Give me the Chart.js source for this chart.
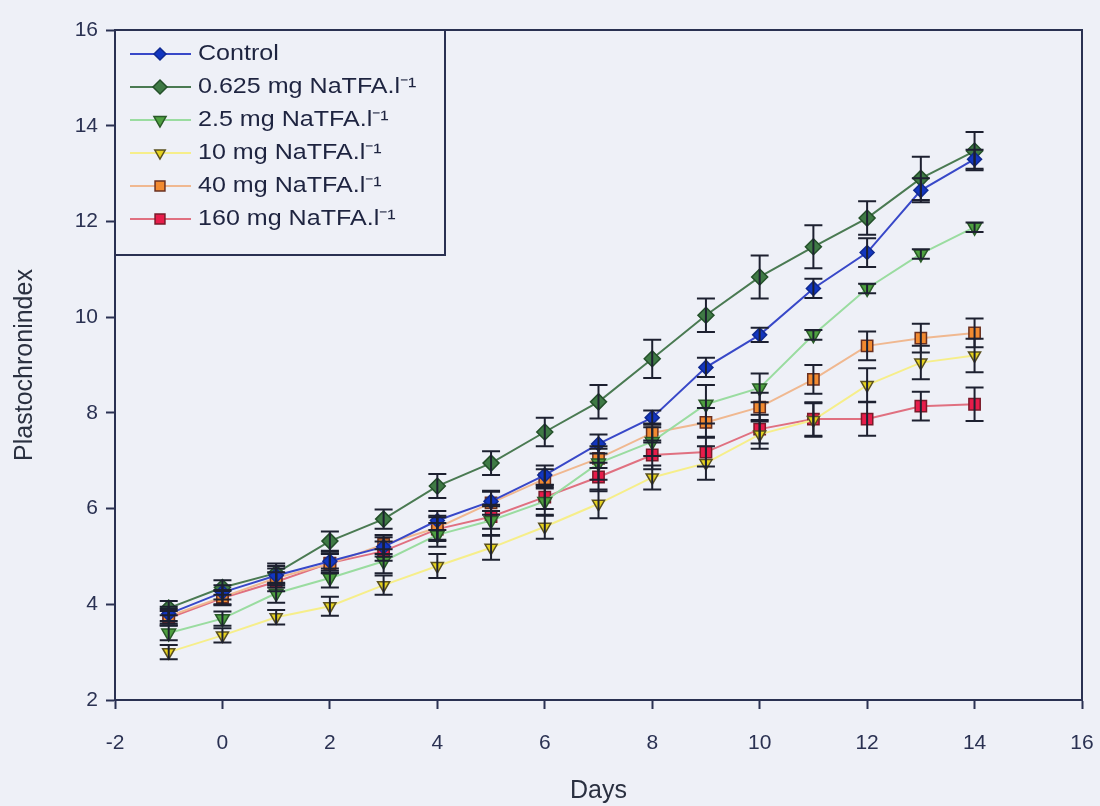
<!DOCTYPE html>
<html>
<head>
<meta charset="utf-8">
<script src="https://cdn.jsdelivr.net/npm/chart.js@4/dist/chart.umd.min.js"></script>
<style>
  html, body { margin: 0; padding: 0; background: #eef0f7; }
  #wrap { width: 1100px; height: 806px; position: relative; }
</style>
</head>
<body>
<div id="wrap"><canvas id="chart" width="1100" height="806"></canvas></div>
<script>
/* data */
const days = [-1, 0, 1, 2, 3, 4, 5, 6, 7, 8, 9, 10, 11, 12, 13, 14];

const control = [3.8, 4.25, 4.6, 4.9, 5.2, 5.75, 6.15, 6.7, 7.35, 7.9, 8.95, 9.63, 10.6, 11.35, 12.65, 13.3];
const na0625  = [3.92, 4.35, 4.65, 5.32, 5.78, 6.47, 6.95, 7.6, 8.23, 9.13, 10.04, 10.84, 11.47, 12.07, 12.9, 13.47];
const na25    = [3.4, 3.7, 4.23, 4.55, 4.9, 5.45, 5.75, 6.15, 6.95, 7.4, 8.18, 8.52, 9.63, 10.6, 11.32, 11.88];
const na10    = [3.0, 3.35, 3.73, 3.96, 4.4, 4.8, 5.18, 5.62, 6.1, 6.65, 6.95, 7.55, 7.85, 8.58, 9.05, 9.2];
const na40    = [3.75, 4.15, 4.55, 4.85, 5.25, 5.6, 6.12, 6.62, 7.05, 7.58, 7.8, 8.12, 8.7, 9.4, 9.56, 9.67];
const na160   = [3.71, 4.13, 4.47, 4.86, 5.11, 5.57, 5.83, 6.24, 6.66, 7.12, 7.18, 7.66, 7.87, 7.87, 8.14, 8.18];

/* standard errors */
const errControl = [0.15, 0.15, 0.2, 0.2, 0.2, 0.2, 0.2, 0.2, 0.2, 0.15, 0.2, 0.15, 0.2, 0.3, 0.25, 0.2];
const err0625    = [0.15, 0.15, 0.2, 0.2, 0.2, 0.25, 0.25, 0.3, 0.35, 0.4, 0.35, 0.45, 0.45, 0.35, 0.45, 0.4];
const err25      = [0.15, 0.15, 0.2, 0.2, 0.25, 0.25, 0.3, 0.3, 0.35, 0.3, 0.4, 0.3, 0.1, 0.1, 0.1, 0.1];
const err10      = [0.15, 0.15, 0.15, 0.2, 0.2, 0.25, 0.25, 0.25, 0.3, 0.25, 0.35, 0.3, 0.35, 0.35, 0.35, 0.35];
const err40      = [0.15, 0.15, 0.2, 0.2, 0.2, 0.25, 0.25, 0.2, 0.2, 0.2, 0.3, 0.3, 0.3, 0.3, 0.3, 0.3];
const err160     = [0.15, 0.15, 0.2, 0.2, 0.2, 0.25, 0.25, 0.25, 0.3, 0.3, 0.3, 0.3, 0.35, 0.35, 0.3, 0.35];

const seriesNames = [
  "Control",
  "0.625 mg NaTFA.l⁻¹",
  "2.5 mg NaTFA.l⁻¹",
  "10 mg NaTFA.l⁻¹",
  "40 mg NaTFA.l⁻¹",
  "160 mg NaTFA.l⁻¹"
];
const xTicks = [-2, 0, 2, 4, 6, 8, 10, 12, 14, 16];
const yTicks = [2, 4, 6, 8, 10, 12, 14, 16];

const FONT = "'Liberation Sans', Arial, sans-serif";
const INK = "#2a3152";

function pts(vals) {
  return days.map((d, i) => ({ x: d, y: vals[i] }));
}

const styles = [
  { line: "#3848c8", fill: "#1236c0", border: "#102a90", shape: "rectRot", r: 7, rot: 0 },
  { line: "#4a7a52", fill: "#3f7a45", border: "#24502a", shape: "rectRot", r: 8, rot: 0 },
  { line: "#9adca0", fill: "#4ea040", border: "#2a5a28", shape: "triangle", r: 8, rot: 180 },
  { line: "#f6ee8a", fill: "#e6d21e", border: "#5a5020", shape: "triangle", r: 7, rot: 180 },
  { line: "#f0b890", fill: "#f28a30", border: "#6a3020", shape: "rect", r: 8, rot: 0 },
  { line: "#e07080", fill: "#e81c4a", border: "#7a1a2a", shape: "rect", r: 8, rot: 0 }
];
const values = [control, na0625, na25, na10, na40, na160];
const errors = [errControl, err0625, err25, err10, err40, err160];

const datasets = values.map((v, k) => ({
  label: seriesNames[k],
  data: pts(v),
  borderColor: styles[k].line,
  borderWidth: 2,
  backgroundColor: styles[k].fill,
  pointBackgroundColor: styles[k].fill,
  pointBorderColor: styles[k].border,
  pointBorderWidth: 1.5,
  pointStyle: styles[k].shape,
  pointRadius: styles[k].r,
  pointRotation: styles[k].rot,
  tension: 0,
  errors: errors[k]
}));

/* error bars, frame and legend box */
const extras = {
  id: "extras",
  afterDatasetsDraw(chart) {
    const ctx = chart.ctx;
    const ys = chart.scales.y;
    ctx.save();
    ctx.strokeStyle = "#1d2030";
    ctx.lineWidth = 2;
    chart.data.datasets.forEach((ds, k) => {
      const meta = chart.getDatasetMeta(k);
      meta.data.forEach((p, i) => {
        const v = ds.data[i].y, e = ds.errors[i];
        const yt = ys.getPixelForValue(v + e), yb = ys.getPixelForValue(v - e);
        ctx.beginPath();
        ctx.moveTo(p.x, yt); ctx.lineTo(p.x, yb);
        ctx.moveTo(p.x - 9, yt); ctx.lineTo(p.x + 9, yt);
        ctx.moveTo(p.x - 9, yb); ctx.lineTo(p.x + 9, yb);
        ctx.stroke();
      });
    });
    ctx.restore();
  },
  afterDraw(chart) {
    const ctx = chart.ctx;
    const a = chart.chartArea;
    ctx.save();
    // frame top/right
    ctx.strokeStyle = INK;
    ctx.lineWidth = 2;
    ctx.beginPath();
    ctx.moveTo(a.left, a.top); ctx.lineTo(a.right, a.top); ctx.lineTo(a.right, a.bottom);
    ctx.stroke();

    // legend
    const bx = a.left, by = a.top, bw = 330, bh = 225;
    ctx.fillStyle = "#eef0f7";
    ctx.fillRect(bx, by, bw, bh);
    ctx.strokeRect(bx, by, bw, bh);
    ctx.font = "22px " + FONT;
    ctx.textBaseline = "middle";
    chart.data.datasets.forEach((ds, k) => {
      const y = by + 24 + k * 33;
      ctx.strokeStyle = ds.borderColor;
      ctx.lineWidth = 2;
      ctx.beginPath();
      ctx.moveTo(bx + 15, y); ctx.lineTo(bx + 76, y);
      ctx.stroke();
      ctx.fillStyle = ds.pointBackgroundColor;
      ctx.strokeStyle = ds.pointBorderColor;
      ctx.lineWidth = 1.5;
      Chart.helpers.drawPoint(ctx, {
        pointStyle: ds.pointStyle,
        radius: ds.pointRadius - 1,
        rotation: ds.pointRotation,
        borderWidth: 1.5
      }, bx + 45, y);
      // reference text is a little wider than Liberation Sans
      ctx.save();
      ctx.translate(bx + 83, y);
      ctx.scale(1.14, 1);
      ctx.fillStyle = "#1e2440";
      ctx.fillText(ds.label, 0, 0);
      ctx.restore();
    });
    ctx.restore();
  }
};

new Chart(document.getElementById("chart"), {
  type: "line",
  data: { datasets },
  plugins: [extras],
  options: {
    responsive: false,
    animation: false,
    layout: { padding: { top: 30, right: 18, left: 0, bottom: 0 } },
    plugins: { legend: { display: false }, tooltip: { enabled: false } },
    scales: {
      x: {
        type: "linear",
        min: -2, max: 16,
        afterBuildTicks: s => { s.ticks = xTicks.map(v => ({ value: v })); },
        afterFit: s => { s.height = 106; s.paddingLeft = 0; s.paddingRight = 0; },
        grid: { drawOnChartArea: false, color: INK, tickLength: 9, tickWidth: 2 },
        border: { color: INK, width: 2 },
        ticks: { color: INK, font: { family: FONT, size: 21 }, padding: 22, maxRotation: 0 },
        title: { display: true, text: "Days", color: "#2a3040", font: { family: FONT, size: 25 }, padding: { top: 0, bottom: 0 } }
      },
      y: {
        min: 2, max: 16,
        afterBuildTicks: s => { s.ticks = yTicks.map(v => ({ value: v })); },
        afterFit: s => { s.width = 115; s.paddingTop = 0; s.paddingBottom = 0; },
        grid: { drawOnChartArea: false, color: INK, tickLength: 9, tickWidth: 2 },
        border: { color: INK, width: 2 },
        ticks: { color: INK, font: { family: FONT, size: 21 }, padding: 8 },
        title: { display: true, text: "Plastochronindex", color: "#2a3040", font: { family: FONT, size: 25 }, padding: { top: 10, bottom: 0 } }
      }
    }
  }
});
</script>
</body>
</html>
